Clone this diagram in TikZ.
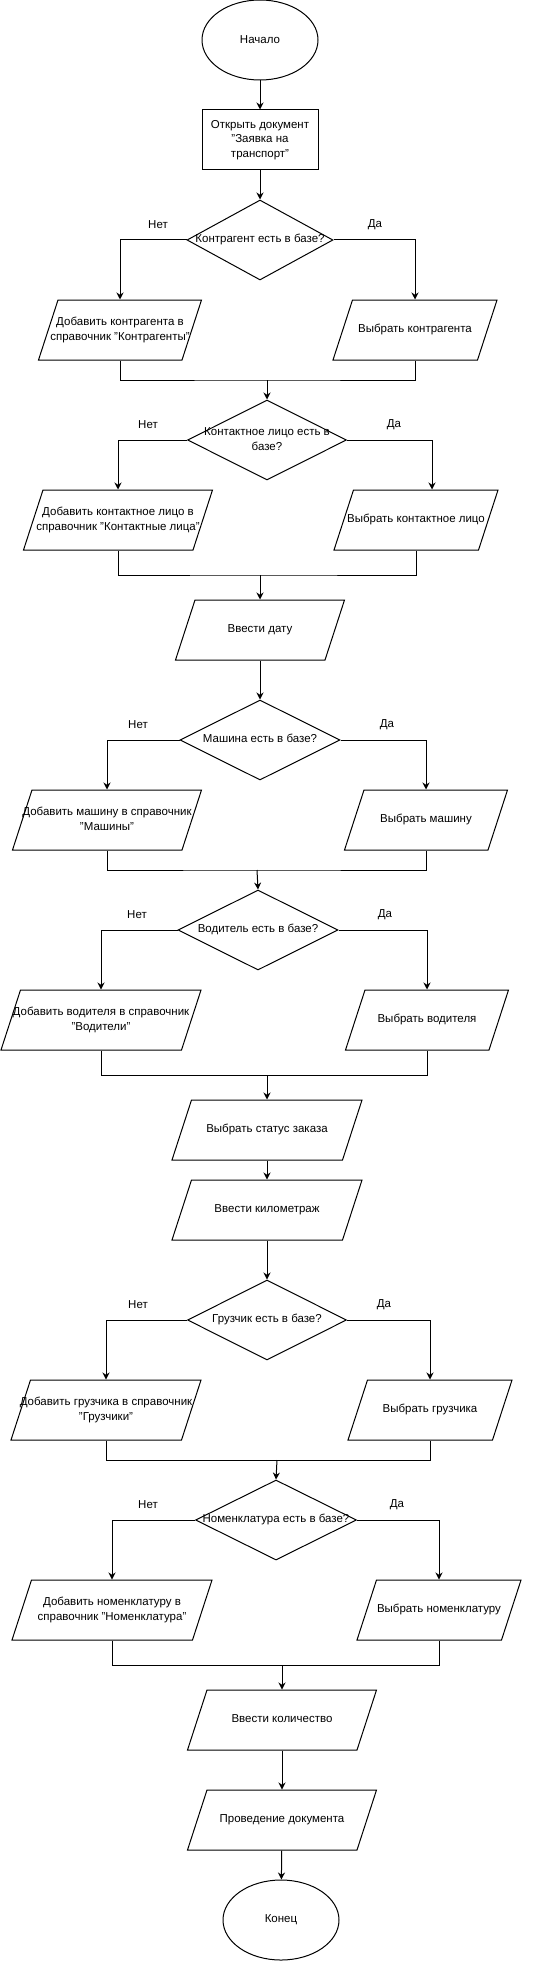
\documentclass[tikz,border=0pt]{standalone}
\usepackage{fontspec}
\setmainfont{Liberation Sans}
\usepackage{tikz}
\usetikzlibrary{positioning,shapes,arrows.meta,calc}
\newcommand{\zwbox}[1]{\makebox[0pt]{\begin{tabular}{@{}c@{}}#1\end{tabular}}}
\newcommand{\iotext}[1]{\parbox[c][60pt][c]{0pt}{\zwbox{#1}}}

\begin{document}
\begin{tikzpicture}[x=1pt, y=-1pt, line width=1pt,
  font=\fontsize{11.5}{14.5}\selectfont,
  >={Stealth[length=7pt, width=7pt]},
  terminal/.style={ellipse, draw, minimum width=116, minimum height=80, inner sep=0pt},
  process/.style={rectangle, draw, minimum width=116, minimum height=60, inner sep=0pt, align=center},
  decision/.style={diamond, draw, minimum height=80, inner sep=0pt},
  iobox/.style={trapezium, trapezium left angle=72, trapezium right angle=108,
    trapezium stretches body=true, draw, minimum height=60, inner sep=0pt},
  answer/.style={inner sep=0pt}]
\useasboundingbox (0,0) rectangle (543,1961);

% Start and opening the document
\node[terminal] (start) at (260,40) {Начало};
\node[process] (open) at (260,140) {Открыть документ\\"Заявка на\\транспорт"};
\draw[->] (start) -- (open);

% Counterparty
\node[decision, minimum width=146] (q1) at (260,240) {\zwbox{Контрагент есть в базе?}};
\node[answer] (no1) at (158,225) {Нет};
\node[answer] (yes1) at (375,225) {Да};
\node[iobox, minimum width=163] (add1) at (120,330) {\iotext{Добавить контрагента в\\справочник "Контрагенты"}};
\node[iobox, minimum width=164] (sel1) at (415,330) {\iotext{Выбрать контрагента}};
\coordinate (j1) at (267,380);
\draw[->] (open) -- (q1);
\draw[->] (q1.west) -| (add1.north);
\draw[->] (q1.east) -| (sel1.north);
\draw (add1.south) |- (j1) -| (sel1.south);

% Contact person
\node[decision, minimum width=159] (q2) at (267,440) {\zwbox{Контактное лицо есть в\\базе?}};
\node[answer] (no2) at (148,425) {Нет};
\node[answer] (yes2) at (394,425) {Да};
\node[iobox, minimum width=189] (add2) at (118,520) {\iotext{Добавить контактное лицо в\\справочник "Контактные лица"}};
\node[iobox, minimum width=164] (sel2) at (416,520) {\iotext{Выбрать контактное лицо}};
\coordinate (j2) at (260,575);
\draw[->] (j1) -- (q2.north);
\draw[->] (q2.west) -| (add2.north);
\draw[->] (q2.east) -| ([xshift=16]sel2.north);
\draw (add2.south) |- (j2) -| (sel2.south);

% Date
\node[iobox, minimum width=169] (date) at (260,630) {\iotext{Ввести дату}};
\draw[->] (j2) -- (date.north);

% Car
\node[decision, minimum width=160] (q3) at (260,740) {\zwbox{Машина есть в базе?}};
\node[answer] (no3) at (138,725) {Нет};
\node[answer] (yes3) at (387,725) {Да};
\node[iobox, minimum width=189] (add3) at (107,820) {\iotext{Добавить машину в справочник\\"Машины"}};
\node[iobox, minimum width=163] (sel3) at (426,820) {\iotext{Выбрать машину}};
\coordinate (j3) at (257,870);
\draw[->] (date) -- (q3);
\draw[->] (q3.west) -| (add3.north);
\draw[->] (q3.east) -| (sel3.north);
\draw (add3.south) |- (j3) -| (sel3.south);

% Driver
\node[decision, minimum width=160] (q4) at (258,930) {\zwbox{Водитель есть в базе?}};
\node[answer] (no4) at (137,915) {Нет};
\node[answer] (yes4) at (385,915) {Да};
\node[iobox, minimum width=200] (add4) at (101,1020) {\iotext{Добавить водителя в справочник\\"Водители"}};
\node[iobox, minimum width=163] (sel4) at (427,1020) {\iotext{Выбрать водителя}};
\coordinate (j4) at (267,1075);
\draw[->] (j3) -- (q4.north);
\draw[->] (q4.west) -| (add4.north);
\draw[->] (q4.east) -| (sel4.north);
\draw (add4.south) |- (j4) -| (sel4.south);

% Order status and mileage
\node[iobox, minimum width=190] (status) at (267,1130) {\iotext{Выбрать статус заказа}};
\node[iobox, minimum width=190] (km) at (267,1210) {\iotext{Ввести километраж}};
\draw[->] (j4) -- (status.north);
\draw[->] (status) -- (km);

% Loader
\node[decision, minimum width=159] (q5) at (267,1320) {\zwbox{Грузчик есть в базе?}};
\node[answer] (no5) at (138,1305) {Нет};
\node[answer] (yes5) at (384,1305) {Да};
\node[iobox, minimum width=190] (add5) at (106,1410) {\iotext{Добавить грузчика в справочник\\"Грузчики"}};
\node[iobox, minimum width=164] (sel5) at (430,1410) {\iotext{Выбрать грузчика}};
\coordinate (j5) at (277,1460);
\draw[->] (km) -- (q5);
\draw[->] (q5.west) -| (add5.north);
\draw[->] (q5.east) -| (sel5.north);
\draw (add5.south) |- (j5) -| (sel5.south);

% Nomenclature
\node[decision, minimum width=161] (q6) at (276,1520) {\zwbox{Номенклатура есть в базе?}};
\node[answer] (no6) at (148,1505) {Нет};
\node[answer] (yes6) at (397,1505) {Да};
\node[iobox, minimum width=200] (add6) at (112,1610) {\iotext{Добавить номенклатуру в\\справочник "Номенклатура"}};
\node[iobox, minimum width=164] (sel6) at (439,1610) {\iotext{Выбрать номенклатуру}};
\coordinate (j6) at (282,1665);
\draw[->] (j5) -- (q6.north);
\draw[->] (q6.west) -| (add6.north);
\draw[->] (q6.east) -| (sel6.north);
\draw (add6.south) |- (j6) -| (sel6.south);

% Quantity, posting and end
\node[iobox, minimum width=189] (qty) at (282,1720) {\iotext{Ввести количество}};
\node[iobox, minimum width=189] (post) at (282,1820) {\iotext{Проведение документа}};
\node[terminal] (finish) at (281,1920) {Конец};
\draw[->] (j6) -- (qty.north);
\draw[->] (qty) -- (post);
\draw[->] (post) -- (finish);
\end{tikzpicture}
\end{document}
